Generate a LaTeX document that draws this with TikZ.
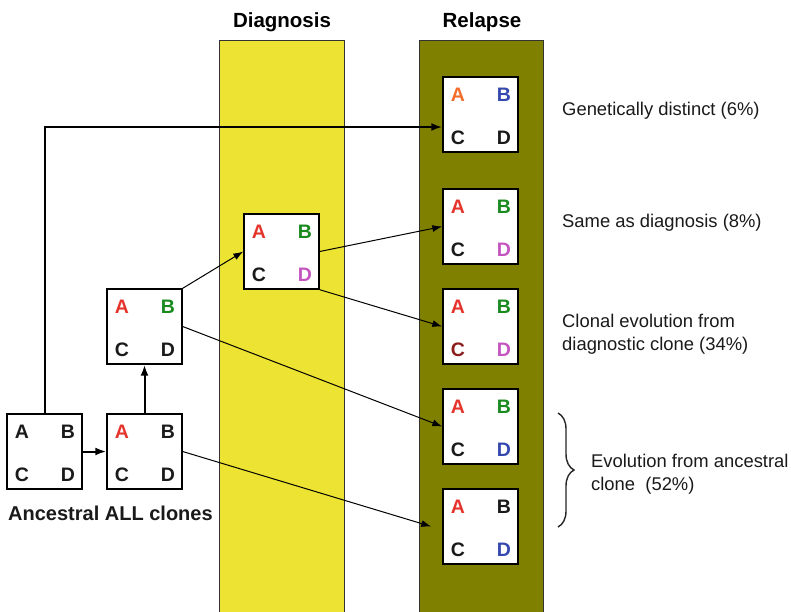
\documentclass[tikz,border=0pt]{standalone}
\usepackage{fontspec}
\setmainfont{Liberation Sans}
\usetikzlibrary{arrows.meta,decorations.pathreplacing}
\definecolor{colyel}{RGB}{237,227,50}
\definecolor{cololive}{RGB}{128,128,0}
\definecolor{cred}{RGB}{228,52,44}
\definecolor{corange}{RGB}{242,108,42}
\definecolor{cblue}{RGB}{52,72,176}
\definecolor{cgreen}{RGB}{24,138,30}
\definecolor{cmag}{RGB}{196,84,192}
\definecolor{cdred}{RGB}{140,30,30}
\definecolor{cblk}{RGB}{26,26,26}
\tikzset{
  clonebox/.style={draw=black, fill=white, line width=1.4pt, minimum width=75pt, minimum height=75pt, inner sep=0pt},
  letter/.style={font=\fontsize{19.5}{19.5}\selectfont\bfseries, inner sep=0pt, anchor=center},
  title/.style={font=\fontsize{20.5}{20.5}\selectfont\bfseries, inner sep=0pt, anchor=base},
  lbl/.style={font=\fontsize{18.4}{18.4}\selectfont, text=cblk, inner sep=0pt, anchor=base west},
  arr/.style={-{Latex[length=10pt,width=7pt]}, line width=1pt},
  tarr/.style={-{Latex[length=11pt,width=8pt]}, line width=2pt},
  column/.style={draw=black!80, line width=1pt}
}
\newcommand{\clonebox}[6]{%
  \node[clonebox] (#1) at (#2) {};
  \node[letter,text=#3] (#1-a) at ([xshift=-22.5pt,yshift=19.5pt]#1.center) {A};
  \node[letter,text=#4] (#1-b) at ([xshift=23.5pt,yshift=19.5pt]#1.center) {B};
  \node[letter,text=#5] (#1-c) at ([xshift=-22.5pt,yshift=-23.5pt]#1.center) {C};
  \node[letter,text=#6] (#1-d) at ([xshift=23.5pt,yshift=-23.5pt]#1.center) {D};
}
\begin{document}
\begin{tikzpicture}[x=1pt,y=-1pt]
\useasboundingbox (0,0) rectangle (791,611);
\fill[white] (0,0) rectangle (791,611);
% columns
\filldraw[column, fill=colyel] (219,40) rectangle (344,616);
\filldraw[column, fill=cololive] (419,40) rectangle (543,616);
\node[title] (tdiag) at (282,27) {Diagnosis};
\node[title] (trel) at (482,27) {Relapse};
% boxes
\clonebox{anc1}{44.5,451.5}{cblk}{cblk}{cblk}{cblk}
\clonebox{anc2}{144.5,451.5}{cred}{cblk}{cblk}{cblk}
\clonebox{anc3}{144.5,326.5}{cred}{cgreen}{cblk}{cblk}
\clonebox{diag}{281.5,251.5}{cred}{cgreen}{cblk}{cmag}
\clonebox{rel1}{480.5,114.5}{corange}{cblue}{cblk}{cblk}
\clonebox{rel2}{480.5,226.5}{cred}{cgreen}{cblk}{cmag}
\clonebox{rel3}{480.5,326.5}{cred}{cgreen}{cdred}{cmag}
\clonebox{rel4}{480.5,426.5}{cred}{cgreen}{cblk}{cblue}
\clonebox{rel5}{480.5,526.5}{cred}{cblk}{cblk}{cblue}
% connectors
\draw[tarr] (anc1.north) |- ([yshift=-12.5pt]rel1.west);
\draw[tarr] (anc1.east) -- (anc2.west);
\draw[tarr] (anc2.north) -- (anc3.south);
\draw[arr] (anc3.north east) -- (diag.west);
\draw[arr] (anc3.east) -- (rel4.west);
\draw[arr] (anc2.east) -- ([xshift=-11pt]rel5.west);
\draw[arr] (diag.east) -- (rel2.west);
\draw[arr] (diag.south east) -- (rel3.west);
% labels
\node[font=\fontsize{20}{20}\selectfont\bfseries, text=cblk, inner sep=0pt, anchor=base west] (tanc) at (8,520) {Ancestral ALL clones};
\node[lbl] (l1) at (562,115) {Genetically distinct (6\%)};
\node[lbl] (l2) at (562,227) {Same as diagnosis (8\%)};
\node[lbl] (l3a) at (562,327) {Clonal evolution from};
\node[lbl] (l3b) at (562,350) {diagnostic clone (34\%)};
\node[lbl] (l4a) at (591,467) {Evolution from ancestral};
\node[lbl] (l4b) at (591,490) {clone\ \ (52\%)};
\draw[line width=1.4pt, black!85, decorate, decoration={brace, amplitude=16pt, aspect=0.5}] (558,413) -- (558,527);
\end{tikzpicture}
\end{document}
